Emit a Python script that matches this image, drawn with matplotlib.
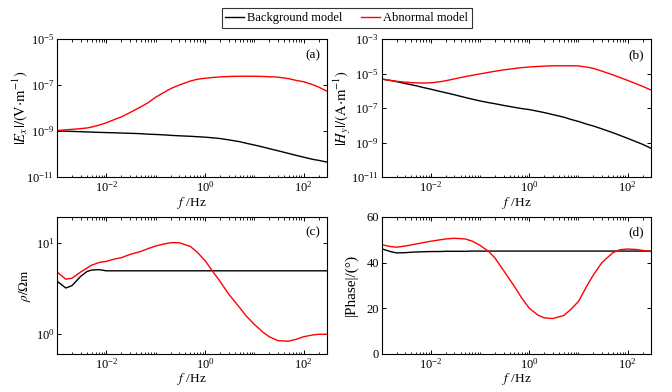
import numpy as np
import matplotlib
matplotlib.use('Agg')
import matplotlib.pyplot as plt
from matplotlib import ticker
from matplotlib.lines import Line2D

plt.rcParams['font.family'] = ['Liberation Serif', 'DejaVu Serif']
plt.rcParams['mathtext.fontset'] = 'stix'

# frequency grid (Hz) shared by all panels
freq = [0.001, 0.0015, 0.002, 0.003, 0.004, 0.005, 0.007, 0.01, 0.015, 0.02,
        0.03, 0.05, 0.07, 0.1, 0.15, 0.2, 0.3, 0.5, 0.7, 1, 1.5, 2, 3, 5, 7,
        10, 15, 20, 30, 50, 70, 100, 150, 200, 300]

# (a) |Ex| (V/m)
ex_bg = [1.02e-9, 1.0e-9, 9.8e-10, 9.5e-10, 9.3e-10, 9.1e-10, 8.9e-10, 8.7e-10,
         8.5e-10, 8.3e-10, 8.1e-10, 7.8e-10, 7.4e-10, 7.2e-10, 6.9e-10, 6.6e-10,
         6.3e-10, 6.0e-10, 5.75e-10, 5.5e-10, 5.1e-10, 4.8e-10, 4.2e-10, 3.5e-10,
         2.95e-10, 2.5e-10, 2.04e-10, 1.74e-10, 1.41e-10, 1.07e-10, 8.9e-11,
         7.4e-11, 6.0e-11, 5.4e-11, 4.5e-11]
ex_ab = [1.07e-9, 1.15e-9, 1.20e-9, 1.29e-9, 1.38e-9, 1.51e-9, 1.82e-9, 2.34e-9,
         3.31e-9, 4.17e-9, 6.46e-9, 1.15e-8, 1.74e-8, 3.02e-8, 5.01e-8, 7.08e-8,
         1.02e-7, 1.51e-7, 1.82e-7, 2.0e-7, 2.19e-7, 2.29e-7, 2.40e-7, 2.45e-7,
         2.45e-7, 2.45e-7, 2.40e-7, 2.34e-7, 2.24e-7, 1.91e-7, 1.62e-7, 1.41e-7,
         1.07e-7, 8.3e-8, 5.4e-8]

# (b) |Hy| (A/m)
hy_bg = [4.9e-6, 4.07e-6, 3.47e-6, 2.69e-6, 2.29e-6, 2.0e-6, 1.58e-6, 1.26e-6,
         9.5e-7, 7.9e-7, 6.0e-7, 4.17e-7, 3.31e-7, 2.63e-7, 2.09e-7, 1.82e-7,
         1.45e-7, 1.12e-7, 9.5e-8, 8.3e-8, 6.6e-8, 5.6e-8, 4.27e-8, 3.02e-8,
         2.24e-8, 1.70e-8, 1.17e-8, 9.3e-9, 6.3e-9, 3.8e-9, 2.63e-9, 1.78e-9,
         1.12e-9, 8.1e-10, 4.7e-10]
hy_ab = [4.9e-6, 4.07e-6, 3.63e-6, 3.24e-6, 3.02e-6, 2.95e-6, 2.88e-6, 2.95e-6,
         3.39e-6, 3.89e-6, 5.0e-6, 6.76e-6, 8.13e-6, 9.77e-6, 1.20e-5, 1.38e-5,
         1.66e-5, 2.0e-5, 2.24e-5, 2.45e-5, 2.63e-5, 2.75e-5, 2.88e-5, 2.88e-5,
         2.88e-5, 2.82e-5, 2.40e-5, 2.04e-5, 1.41e-5, 8.5e-6, 6.0e-6, 4.07e-6,
         2.57e-6, 1.86e-6, 1.12e-6]

# (c) apparent resistivity (Ohm m)
rho_bg = [3.8, 3.2, 3.4, 4.3, 4.85, 5.05, 5.1, 4.95, 4.95, 4.95, 4.95, 4.95,
          4.95, 4.95, 4.95, 4.95, 4.95, 4.95, 4.95, 4.95, 4.95, 4.95, 4.95,
          4.95, 4.95, 4.95, 4.95, 4.95, 4.95, 4.95, 4.95, 4.95, 4.95, 4.95, 4.95]
rho_ab = [4.8, 4.0, 4.1, 4.8, 5.3, 5.7, 6.1, 6.3, 6.7, 6.9, 7.5, 8.1, 8.7, 9.3,
          9.8, 10.1, 10.1, 9.2, 7.9, 6.4, 4.7, 3.8, 2.75, 1.95, 1.55, 1.27,
          1.04, 0.93, 0.84, 0.83, 0.87, 0.93, 0.97, 0.99, 0.99]

# (d) |phase| (deg)
ph_bg = [46.0, 44.8, 44.2, 44.3, 44.5, 44.6, 44.7, 44.8, 44.8, 44.9, 44.9,
         44.9, 45.0, 45.0, 45.0, 45.0, 45.0, 45.0, 45.0, 45.0, 45.0, 45.0,
         45.0, 45.0, 45.0, 45.0, 45.0, 45.0, 45.0, 45.0, 45.0, 45.0, 45.0,
         45.0, 45.0]
ph_ab = [47.8, 47.0, 46.7, 47.2, 47.7, 48.1, 48.7, 49.3, 49.9, 50.3, 50.6,
         50.3, 49.3, 47.5, 44.8, 42.0, 36.5, 29.5, 24.5, 20.0, 17.0, 15.8,
         15.5, 16.8, 19.5, 23.0, 30.0, 34.5, 40.0, 44.3, 45.6, 45.9, 45.7,
         45.3, 44.8]

fig = plt.figure(figsize=(6.72, 3.92), dpi=100)
ax_a = fig.add_axes([0.085, 0.548, 0.402, 0.352])
ax_b = fig.add_axes([0.568, 0.548, 0.401, 0.352])
ax_c = fig.add_axes([0.085, 0.097, 0.402, 0.350])
ax_d = fig.add_axes([0.568, 0.097, 0.401, 0.350])

panels = [
    (ax_a, ex_bg, ex_ab, r'$|E_x|/(\mathrm{V{\cdot}m^{-1}})$', 10.5, -0.10, '(a)'),
    (ax_b, hy_bg, hy_ab, r'$|H_y|/(\mathrm{A{\cdot}m^{-1}})$', 10.5, -0.108, '(b)'),
    (ax_c, rho_bg, rho_ab, r'$\rho/\Omega\mathrm{m}$', 9.5, -0.09, '(c)'),
    (ax_d, ph_bg, ph_ab, '|Phase|/(°)', 11, -0.09, '(d)'),
]

for ax, bg, ab, ylab, ysize, ylab_x, tag in panels:
    ax.plot(freq, bg, color='black', lw=1.0)
    ax.plot(freq, ab, color='red', lw=1.0)
    ax.set_xscale('log')
    ax.set_xlim(1e-3, 300)
    ax.set_xticks([1e-2, 1, 1e2])
    ax.xaxis.set_minor_locator(ticker.LogLocator(base=10, subs=np.arange(1, 10), numticks=20))
    ax.xaxis.set_minor_formatter(ticker.NullFormatter())
    ax.tick_params(which='both', direction='in', top=True, right=True, labelsize=9, pad=2)
    ax.tick_params(which='major', length=3, width=0.7)
    ax.tick_params(which='minor', length=1.8, width=0.6)
    ax.set_xlabel('$f$ /Hz', fontsize=9.5, labelpad=0)
    ax.set_ylabel(ylab, fontsize=ysize)
    ax.yaxis.set_label_coords(ylab_x, 0.5)
    ax.text(0.945, 0.885, tag, transform=ax.transAxes, ha='center', va='center', fontsize=9.5)
    for s in ax.spines.values():
        s.set_linewidth(0.8)

ax_a.set_yscale('log')
ax_a.set_ylim(1e-11, 1e-5)
ax_a.set_yticks([1e-11, 1e-9, 1e-7, 1e-5])
ax_a.yaxis.set_minor_locator(ticker.NullLocator())

ax_b.set_yscale('log')
ax_b.set_ylim(1e-11, 1e-3)
ax_b.set_yticks([1e-11, 1e-9, 1e-7, 1e-5, 1e-3])
ax_b.yaxis.set_minor_locator(ticker.NullLocator())

ax_c.set_yscale('log')
ax_c.set_ylim(0.6, 19.5)
ax_c.set_yticks([1, 10])
ax_c.yaxis.set_minor_locator(ticker.NullLocator())

ax_d.set_ylim(0, 60)
ax_d.set_yticks([0, 20, 40, 60])

handles = [Line2D([], [], color='black', lw=1.0), Line2D([], [], color='red', lw=1.0)]
leg = fig.legend(handles, ['Background model', 'Abnormal model'], loc='upper center',
                 bbox_to_anchor=(0.516, 0.985), ncol=2, fontsize=9, frameon=True,
                 fancybox=False, edgecolor='black', handlelength=1.5, columnspacing=1.5,
                 borderpad=0.3, handletextpad=0.25, borderaxespad=0.2)
leg.get_frame().set_linewidth(0.8)

fig.savefig('out.png', dpi=100, facecolor='white')
